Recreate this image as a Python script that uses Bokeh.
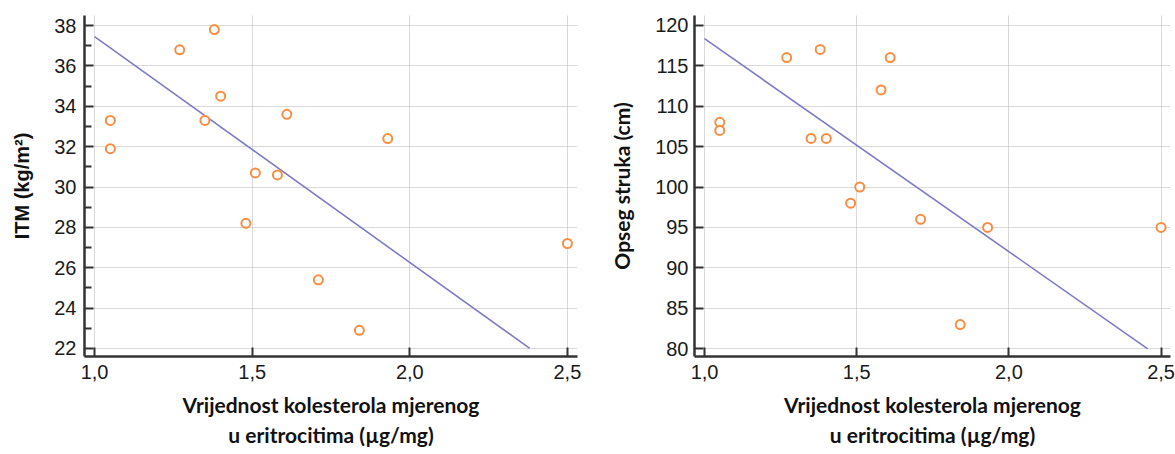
import numpy as np
from bokeh.plotting import figure
from bokeh.models import Range1d, FixedTicker, CustomJSTickFormatter
from bokeh.layouts import row
from bokeh.embed import file_html
from bokeh.resources import INLINE

# ---- data ----
cholesterol = [1.05, 1.05, 1.27, 1.35, 1.38, 1.40, 1.48, 1.51, 1.58, 1.61, 1.71, 1.84, 1.93, 2.50]
itm = [33.3, 31.9, 36.8, 33.3, 37.8, 34.5, 28.2, 30.7, 30.6, 33.6, 25.4, 22.9, 32.4, 27.2]
waist = [108, 107, 116, 106, 117, 106, 98, 100, 112, 116, 96, 83, 95, 95]

x_ticks = [1.0, 1.5, 2.0, 2.5]
itm_ticks = [22, 24, 26, 28, 30, 32, 34, 36, 38]
itm_minor_ticks = [23, 25, 27, 29, 31, 33, 35, 37]
waist_ticks = [80, 85, 90, 95, 100, 105, 110, 115, 120]

x_label = "Vrijednost kolesterola mjerenog\nu eritrocitima (µg/mg)"
itm_label = "ITM (kg/m²)"
waist_label = "Opseg struka (cm)"

POINT_COLOR = "#FB8D42"
LINE_COLOR = "#7D7BC4"
AXIS_COLOR = "#333333"
GRID_COLOR = "#B4B4B4"


def rma_line(x, y, x_start, y_floor):
    x = np.asarray(x, float)
    y = np.asarray(y, float)
    r = np.corrcoef(x, y)[0, 1]
    slope = np.sign(r) * y.std() / x.std()
    intercept = y.mean() - slope * x.mean()
    x_end = (y_floor - intercept) / slope
    return [x_start, x_end], [intercept + slope * x_start, y_floor]


def panel(width, xr, yr, yvals, yticks, yminor, ylabel, ylabel_font, ylabel_size,
          border_left, border_right, border_bottom, tick_standoff):
    p = figure(width=width, height=454, x_range=Range1d(*xr), y_range=Range1d(*yr),
               output_backend="svg", toolbar_location=None,
               min_border_left=border_left, min_border_right=border_right,
               min_border_top=15, min_border_bottom=border_bottom)
    p.outline_line_color = None
    p.background_fill_color = "white"
    p.border_fill_color = "white"

    lx, ly = rma_line(cholesterol, yvals, x_ticks[0], yticks[0])
    p.line(lx, ly, line_color=LINE_COLOR, line_width=1.6)
    p.scatter(cholesterol, yvals, marker="circle", size=9, fill_color="white",
              line_color=POINT_COLOR, line_width=2)

    # axes
    p.xaxis.ticker = FixedTicker(ticks=x_ticks)
    p.xaxis.formatter = CustomJSTickFormatter(code="return tick.toFixed(1).replace('.', ',');")
    p.yaxis.ticker = FixedTicker(ticks=yticks, minor_ticks=yminor)
    for ax in (p.xaxis[0], p.yaxis[0]):
        ax.axis_line_color = AXIS_COLOR
        ax.axis_line_width = 2.5
        ax.major_tick_line_color = AXIS_COLOR
        ax.major_tick_line_width = 2
        ax.major_tick_in = 9
        ax.major_tick_out = 0
        ax.minor_tick_line_color = AXIS_COLOR
        ax.minor_tick_line_width = 2
        ax.minor_tick_in = 7
        ax.minor_tick_out = 0
        ax.major_label_text_font = "Liberation Sans"
        ax.major_label_text_font_size = "20px"
        ax.major_label_text_color = "#1a1a1a"
    p.xaxis.minor_tick_line_color = None
    p.xaxis.major_label_standoff = 8
    p.yaxis.major_label_standoff = tick_standoff

    p.xaxis.axis_label = x_label
    p.xaxis.axis_label_text_font = "Lato"
    p.xaxis.axis_label_text_font_style = "bold"
    p.xaxis.axis_label_text_font_size = "21px"
    p.xaxis.axis_label_text_color = "#111111"
    p.xaxis.axis_label_standoff = 10

    p.yaxis.axis_label = ylabel
    p.yaxis.axis_label_text_font = ylabel_font
    p.yaxis.axis_label_text_font_style = "bold"
    p.yaxis.axis_label_text_font_size = ylabel_size
    p.yaxis.axis_label_text_color = "#111111"
    p.yaxis.axis_label_standoff = 18

    # grid
    p.xgrid.ticker = FixedTicker(ticks=x_ticks)
    p.ygrid.ticker = FixedTicker(ticks=yticks)
    for g in (p.xgrid[0], p.ygrid[0]):
        g.grid_line_color = GRID_COLOR
        g.grid_line_dash = "1 1"
        g.grid_line_width = 1
    return p


left = panel(585, (0.968, 2.532), (21.6, 38.5), itm, itm_ticks, itm_minor_ticks,
             itm_label, "Liberation Sans", "20px", 84, 8, 96, 8)
right = panel(590, (0.967, 2.531), (79.05, 121.2), waist, waist_ticks, [],
              waist_label, "Lato", "21px", 109, 5, 98, 6)

layout = row(left, right)
open("out.html", "w").write(file_html(layout, INLINE))
